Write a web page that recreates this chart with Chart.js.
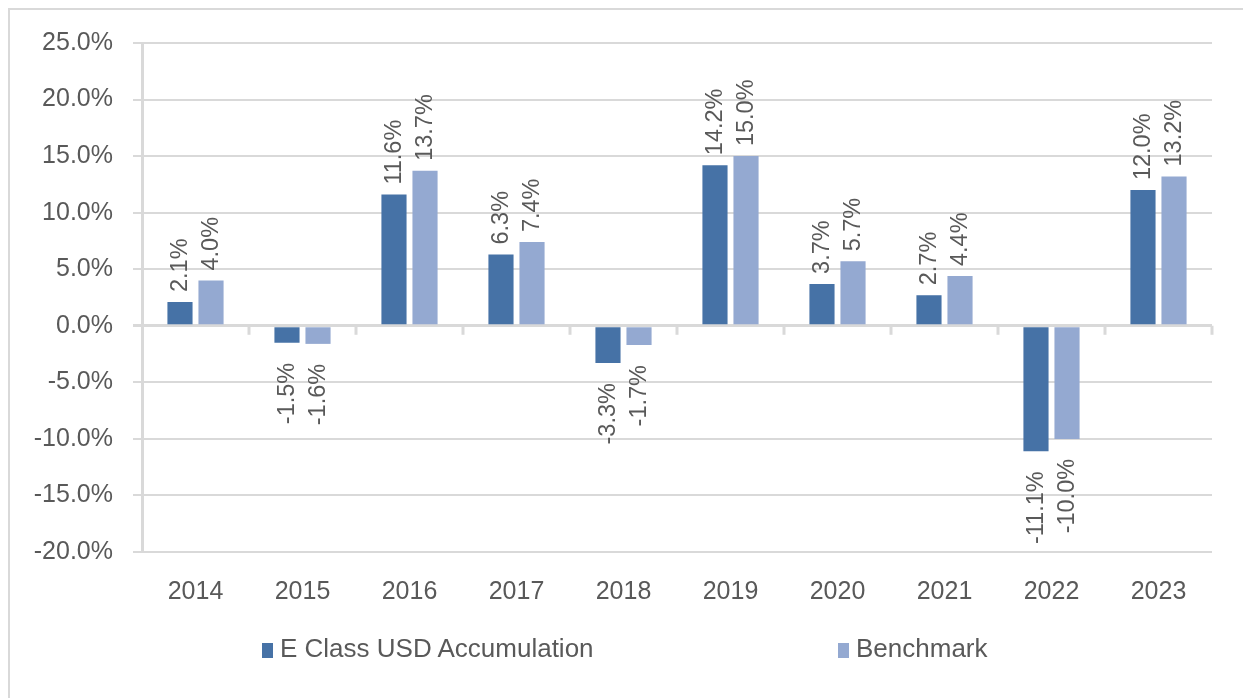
<!DOCTYPE html>
<html>
<head>
<meta charset="utf-8">
<script src="https://cdn.jsdelivr.net/npm/chart.js@4/dist/chart.umd.min.js"></script>
<style>
  body { margin: 0; background: #fff; overflow: hidden; }
  #frame { position: absolute; left: 8px; top: 8px; width: 1300px; height: 760px;
           border-left: 2px solid #d9d9d9; border-top: 2px solid #d9d9d9; }
  #canvasContainer { position: absolute; left: 0; top: 0; width: 1243px; height: 698px; }
  .legendItem { position: absolute; top: 633px; font: 26px "Liberation Sans", Arial, sans-serif;
                color: #595959; white-space: nowrap; line-height: 30px; }
  .legendItem span { display: inline-block; width: 11px; height: 15px; margin-right: 7px; vertical-align: -1px; }
</style>
</head>
<body>
<div id="frame"></div>
<div id="canvasContainer"><canvas id="myChart" width="1243" height="698"></canvas></div>
<div id="legend"></div>
<script>
var years = ["2014", "2015", "2016", "2017", "2018", "2019", "2020", "2021", "2022", "2023"];
var fundReturns = [2.1, -1.5, 11.6, 6.3, -3.3, 14.2, 3.7, 2.7, -11.1, 12.0];
var benchmarkReturns = [4.0, -1.6, 13.7, 7.4, -1.7, 15.0, 5.7, 4.4, -10.0, 13.2];
var seriesNames = ["E Class USD Accumulation", "Benchmark"];
var seriesColors = ["#4672a6", "#94a9d1"];
var yTicks = [-20, -15, -10, -5, 0, 5, 10, 15, 20, 25];

var textColor = "#595959";
var gridColor = "#d9d9d9";
var fontFamily = '"Liberation Sans", Arial, sans-serif';

// small tick marks on the zero line between categories
var zeroTicks = {
  id: "zeroTicks",
  afterDatasetsDraw: function (chart) {
    var x = chart.scales.x, y = chart.scales.y, ctx = chart.ctx;
    var y0 = y.getPixelForValue(0);
    ctx.save();
    ctx.strokeStyle = gridColor;
    ctx.lineWidth = 3;
    for (var i = 0; i < years.length; i++) {
      var px = Math.round(x.getPixelForValue(i + 0.5));
      ctx.beginPath();
      ctx.moveTo(px, y0);
      ctx.lineTo(px, y0 + 9);
      ctx.stroke();
    }
    ctx.restore();
  }
};

// rotated value labels at the end of each bar
var barLabels = {
  id: "barLabels",
  afterDatasetsDraw: function (chart) {
    var ctx = chart.ctx;
    ctx.save();
    ctx.font = "23.5px " + fontFamily;
    ctx.fillStyle = textColor;
    ctx.textBaseline = "middle";
    chart.data.datasets.forEach(function (ds, di) {
      chart.getDatasetMeta(di).data.forEach(function (bar, i) {
        var v = ds.data[i];
        var text = v.toFixed(1) + "%";
        ctx.save();
        if (v >= 0) {
          ctx.translate(bar.x, bar.y - 10);
          ctx.rotate(-Math.PI / 2);
          ctx.textAlign = "left";
        } else {
          ctx.translate(bar.x, bar.y + 20);
          ctx.rotate(-Math.PI / 2);
          ctx.textAlign = "right";
        }
        ctx.fillText(text, 0, 1);
        ctx.restore();
      });
    });
    ctx.restore();
  }
};

var ctx = document.getElementById("myChart").getContext("2d");
var chart = new Chart(ctx, {
  type: "bar",
  data: {
    labels: years,
    datasets: [
      {
        label: seriesNames[0],
        data: fundReturns,
        backgroundColor: seriesColors[0],
        categoryPercentage: 0.58,
        barPercentage: 0.81
      },
      {
        label: seriesNames[1],
        data: benchmarkReturns,
        backgroundColor: seriesColors[1],
        categoryPercentage: 0.58,
        barPercentage: 0.81
      }
    ]
  },
  options: {
    responsive: false,
    animation: false,
    layout: { padding: { top: 43, right: 31, bottom: 86, left: 0 } },
    plugins: {
      legend: { display: false },
      tooltip: { enabled: false }
    },
    scales: {
      x: {
        grid: { display: false, drawTicks: false },
        border: { display: false },
        ticks: { color: textColor, font: { family: fontFamily, size: 25 }, padding: 25 },
        afterFit: function (scale) { scale.height = 60; }
      },
      y: {
        min: -20,
        max: 25,
        afterBuildTicks: function (scale) {
          scale.ticks = yTicks.map(function (v) { return { value: v }; });
        },
        grid: {
          color: gridColor,
          lineWidth: function (c) { return c.tick && c.tick.value === 0 ? 3 : 2; },
          tickLength: 9
        },
        border: { display: true, color: gridColor, width: 3 },
        ticks: {
          color: textColor,
          font: { family: fontFamily, size: 25 },
          padding: 20,
          callback: function (v) { return v.toFixed(1) + "%"; }
        },
        afterFit: function (scale) { scale.width = 142; }
      }
    }
  },
  plugins: [zeroTicks, barLabels]
});

// legend drawn as html under the chart
var legendX = [262, 838];
var legend = document.getElementById("legend");
seriesNames.forEach(function (name, i) {
  var item = document.createElement("div");
  item.className = "legendItem";
  item.style.left = legendX[i] + "px";
  item.innerHTML = '<span style="background:' + seriesColors[i] + '"></span>' + name;
  legend.appendChild(item);
});
</script>
</body>
</html>
